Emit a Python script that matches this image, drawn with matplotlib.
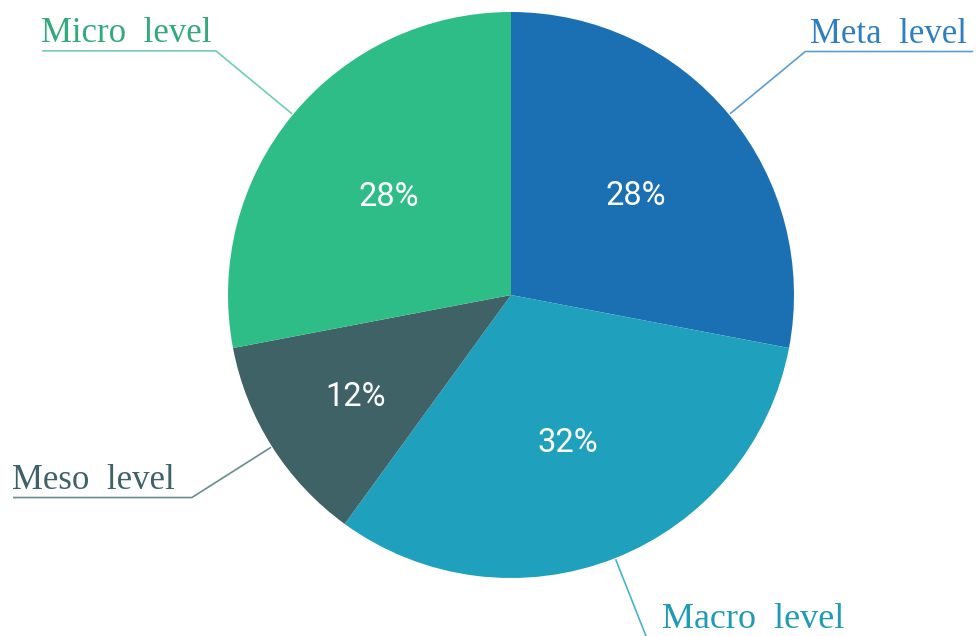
import numpy as np
import matplotlib
matplotlib.use("Agg")
import matplotlib.pyplot as plt

# Share of attention by level of analysis
levels = ["Meta level", "Macro level", "Meso level", "Micro level"]
shares = [28, 32, 12, 28]
pct_labels = ["28%", "32%", "12%", "28%"]

wedge_colors = ["#1b70b4", "#1fa0bd", "#3f6267", "#2ebd87"]
text_colors = ["#2f7fc0", "#1f9bb6", "#3f6267", "#33a97c"]
line_colors = ["#5c9dd2", "#49b3ca", "#6b8b8f", "#6fd0ab"]

W, H = 976, 636
fig = plt.figure(figsize=(W / 100, H / 100), dpi=100)
ax = fig.add_axes([0, 0, 1, 1])
ax.set_xlim(0, W)
ax.set_ylim(0, H)
ax.axis("off")

cx, cy, R = 511, H - 295, 283
wedges, _ = ax.pie(shares, colors=wedge_colors, startangle=90, counterclock=False,
                   center=(cx, cy), radius=R, frame=False,
                   wedgeprops=dict(linewidth=0))
ax.set_xlim(0, W)
ax.set_ylim(0, H)
ax.set_aspect("equal")

pct_dist = [0.57, 0.55, 0.65, 0.56]
elbow_r = [382, 368, 378, 383]
arm_len = [167, 200, 178, 173]
label_dx = [5, 16, -2, -2]
label_size = [25, 26, 25, 25]

for i, w in enumerate(wedges):
    mid = np.deg2rad((w.theta1 + w.theta2) / 2)
    c, s = np.cos(mid), np.sin(mid)
    ax.text(cx + pct_dist[i] * R * c, cy + pct_dist[i] * R * s, pct_labels[i],
            color="white", fontsize=23.5, family="Roboto",
            ha="center", va="center_baseline")
    x0, y0 = cx + (R + 2) * c, cy + (R + 2) * s
    x1, y1 = cx + elbow_r[i] * c, cy + elbow_r[i] * s
    side = 1 if c > 0 else -1
    x2 = x1 + side * arm_len[i]
    ax.plot([x0, x1, x2], [y0, y1, y1], color=line_colors[i], lw=1.2,
            solid_joinstyle="miter", clip_on=False)
    name = levels[i].replace(" ", "  ")
    tx = (x1 if side > 0 else x2) + label_dx[i]
    ax.text(tx, y1 + 9, name, color=text_colors[i], fontsize=label_size[i],
            family="Liberation Serif", ha="left", va="baseline")

fig.savefig("out.png", dpi=100)
